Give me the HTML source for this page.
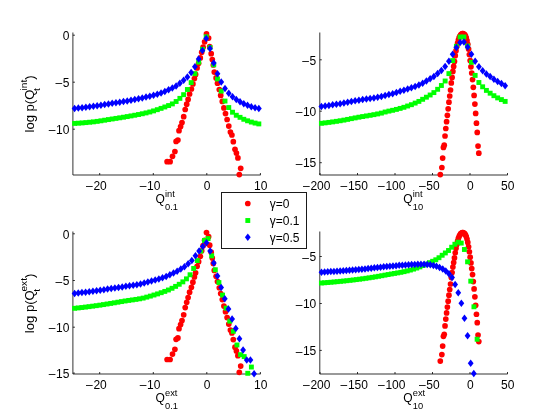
<!DOCTYPE html>
<html><head><meta charset="utf-8"><title>figure</title>
<style>html,body{margin:0;padding:0;background:#fff;width:560px;height:420px;overflow:hidden}body{position:relative;font-family:"Liberation Sans", sans-serif}</style>
</head><body>
<div style="position:absolute;left:0;top:0;width:560px;height:420px;will-change:transform">
<svg width="560" height="420" viewBox="0 0 560 420" style="display:block;position:absolute;left:0;top:0;filter:opacity(1)" font-family='"Liberation Sans", sans-serif' font-size="12" fill="#000">
<rect x="0" y="0" width="560" height="420" fill="#fff"/>
<g stroke="#000" stroke-width="1.0" stroke-opacity="0.8" fill="none">
<path d="M72.9 32.5V175.0H260.6"/>
<path d="M99.7 175.0v-2.0"/>
<path d="M153.3 175.0v-2.0"/>
<path d="M206.8 175.0v-2.0"/>
<path d="M260.4 175.0v-2.0"/>
<path d="M72.9 35.2h2.0"/>
<path d="M72.9 82.2h2.0"/>
<path d="M72.9 129.2h2.0"/>
</g>
<text x="100.1" y="189.8" text-anchor="middle">20</text>
<text x="92.8" y="190.3" text-anchor="end">–</text>
<text x="153.7" y="189.8" text-anchor="middle">10</text>
<text x="146.4" y="190.3" text-anchor="end">–</text>
<text x="207.1" y="189.8" text-anchor="middle">0</text>
<text x="260.7" y="189.8" text-anchor="middle">10</text>
<text x="69.4" y="39.9" text-anchor="end">0</text>
<text x="69.4" y="86.9" text-anchor="end">5</text>
<text x="62.1" y="87.4" text-anchor="end">–</text>
<text x="69.4" y="133.9" text-anchor="end">10</text>
<text x="55.5" y="134.4" text-anchor="end">–</text>
<g fill="#ff0000">
<circle cx="167.10" cy="161.70" r="2.85"/>
<circle cx="170.10" cy="161.70" r="2.85"/>
<circle cx="172.50" cy="156.30" r="2.85"/>
<circle cx="174.90" cy="151.50" r="2.85"/>
<circle cx="176.10" cy="141.40" r="2.85"/>
<circle cx="177.90" cy="140.00" r="2.85"/>
<circle cx="179.00" cy="130.70" r="2.85"/>
<circle cx="180.60" cy="126.50" r="2.85"/>
<circle cx="182.00" cy="122.50" r="2.85"/>
<circle cx="183.70" cy="116.70" r="2.85"/>
<circle cx="185.20" cy="109.50" r="2.85"/>
<circle cx="186.70" cy="104.20" r="2.85"/>
<circle cx="188.10" cy="99.40" r="2.85"/>
<circle cx="189.60" cy="94.00" r="2.85"/>
<circle cx="191.40" cy="89.00" r="2.85"/>
<circle cx="192.90" cy="83.90" r="2.85"/>
<circle cx="194.40" cy="78.60" r="2.85"/>
<circle cx="195.60" cy="74.40" r="2.85"/>
<circle cx="197.10" cy="67.90" r="2.85"/>
<circle cx="198.60" cy="63.30" r="2.85"/>
<circle cx="200.30" cy="57.90" r="2.85"/>
<circle cx="201.70" cy="52.30" r="2.85"/>
<circle cx="203.10" cy="47.20" r="2.85"/>
<circle cx="204.60" cy="41.80" r="2.85"/>
<circle cx="206.50" cy="33.90" r="2.85"/>
<circle cx="208.60" cy="38.10" r="2.85"/>
<circle cx="209.70" cy="46.60" r="2.85"/>
<circle cx="211.20" cy="53.70" r="2.85"/>
<circle cx="212.30" cy="59.60" r="2.85"/>
<circle cx="213.30" cy="65.00" r="2.85"/>
<circle cx="214.30" cy="72.10" r="2.85"/>
<circle cx="216.10" cy="77.90" r="2.85"/>
<circle cx="217.50" cy="83.20" r="2.85"/>
<circle cx="219.30" cy="89.50" r="2.85"/>
<circle cx="220.70" cy="95.40" r="2.85"/>
<circle cx="222.30" cy="101.40" r="2.85"/>
<circle cx="223.90" cy="107.90" r="2.85"/>
<circle cx="225.50" cy="113.60" r="2.85"/>
<circle cx="227.10" cy="119.50" r="2.85"/>
<circle cx="228.80" cy="126.10" r="2.85"/>
<circle cx="230.40" cy="132.10" r="2.85"/>
<circle cx="231.90" cy="135.00" r="2.85"/>
<circle cx="233.30" cy="141.70" r="2.85"/>
<circle cx="235.00" cy="149.30" r="2.85"/>
<circle cx="236.40" cy="153.10" r="2.85"/>
<circle cx="237.90" cy="157.90" r="2.85"/>
<circle cx="240.70" cy="168.30" r="2.85"/>
<circle cx="239.30" cy="174.60" r="2.85"/>
</g>
<g fill="#00ff00">
<rect x="72.15" y="120.95" width="4.9" height="4.9"/>
<rect x="75.91" y="120.74" width="4.9" height="4.9"/>
<rect x="79.67" y="120.47" width="4.9" height="4.9"/>
<rect x="83.43" y="120.15" width="4.9" height="4.9"/>
<rect x="87.19" y="119.79" width="4.9" height="4.9"/>
<rect x="90.95" y="119.40" width="4.9" height="4.9"/>
<rect x="94.71" y="118.92" width="4.9" height="4.9"/>
<rect x="98.47" y="118.36" width="4.9" height="4.9"/>
<rect x="102.23" y="117.75" width="4.9" height="4.9"/>
<rect x="105.99" y="117.13" width="4.9" height="4.9"/>
<rect x="109.75" y="116.53" width="4.9" height="4.9"/>
<rect x="113.51" y="115.94" width="4.9" height="4.9"/>
<rect x="117.27" y="115.36" width="4.9" height="4.9"/>
<rect x="121.03" y="114.76" width="4.9" height="4.9"/>
<rect x="124.79" y="114.13" width="4.9" height="4.9"/>
<rect x="128.55" y="113.47" width="4.9" height="4.9"/>
<rect x="132.31" y="112.79" width="4.9" height="4.9"/>
<rect x="136.07" y="112.07" width="4.9" height="4.9"/>
<rect x="139.83" y="111.31" width="4.9" height="4.9"/>
<rect x="143.59" y="110.47" width="4.9" height="4.9"/>
<rect x="147.35" y="109.54" width="4.9" height="4.9"/>
<rect x="151.11" y="108.45" width="4.9" height="4.9"/>
<rect x="154.87" y="107.23" width="4.9" height="4.9"/>
<rect x="158.63" y="105.91" width="4.9" height="4.9"/>
<rect x="162.39" y="104.52" width="4.9" height="4.9"/>
<rect x="166.15" y="103.10" width="4.9" height="4.9"/>
<rect x="169.91" y="101.46" width="4.9" height="4.9"/>
<rect x="173.67" y="99.05" width="4.9" height="4.9"/>
<rect x="177.43" y="95.91" width="4.9" height="4.9"/>
<rect x="181.19" y="92.22" width="4.9" height="4.9"/>
<rect x="184.95" y="87.05" width="4.9" height="4.9"/>
<rect x="188.71" y="80.15" width="4.9" height="4.9"/>
<rect x="192.47" y="71.21" width="4.9" height="4.9"/>
<rect x="196.23" y="59.69" width="4.9" height="4.9"/>
<rect x="199.99" y="46.91" width="4.9" height="4.9"/>
<rect x="203.75" y="34.35" width="4.9" height="4.9"/>
<rect x="207.51" y="45.06" width="4.9" height="4.9"/>
<rect x="211.27" y="62.35" width="4.9" height="4.9"/>
<rect x="215.03" y="76.49" width="4.9" height="4.9"/>
<rect x="218.79" y="88.67" width="4.9" height="4.9"/>
<rect x="222.55" y="98.60" width="4.9" height="4.9"/>
<rect x="226.31" y="105.09" width="4.9" height="4.9"/>
<rect x="230.07" y="109.77" width="4.9" height="4.9"/>
<rect x="233.83" y="112.80" width="4.9" height="4.9"/>
<rect x="237.59" y="114.89" width="4.9" height="4.9"/>
<rect x="241.35" y="116.83" width="4.9" height="4.9"/>
<rect x="245.11" y="118.35" width="4.9" height="4.9"/>
<rect x="248.87" y="119.62" width="4.9" height="4.9"/>
<rect x="252.63" y="120.62" width="4.9" height="4.9"/>
<rect x="256.39" y="121.46" width="4.9" height="4.9"/>
</g>
<g fill="#0000ff">
<path d="M74.60 104.65L77.50 108.40L74.60 112.15L71.70 108.40Z"/>
<path d="M78.36 104.31L81.26 108.06L78.36 111.81L75.46 108.06Z"/>
<path d="M82.12 103.93L85.02 107.68L82.12 111.43L79.22 107.68Z"/>
<path d="M85.88 103.51L88.78 107.26L85.88 111.01L82.98 107.26Z"/>
<path d="M89.64 103.06L92.54 106.81L89.64 110.56L86.74 106.81Z"/>
<path d="M93.40 102.58L96.30 106.33L93.40 110.08L90.50 106.33Z"/>
<path d="M97.16 102.06L100.06 105.81L97.16 109.56L94.26 105.81Z"/>
<path d="M100.92 101.47L103.82 105.22L100.92 108.97L98.02 105.22Z"/>
<path d="M104.68 100.86L107.58 104.61L104.68 108.36L101.78 104.61Z"/>
<path d="M108.44 100.24L111.34 103.99L108.44 107.74L105.54 103.99Z"/>
<path d="M112.20 99.62L115.10 103.37L112.20 107.12L109.30 103.37Z"/>
<path d="M115.96 99.02L118.86 102.77L115.96 106.52L113.06 102.77Z"/>
<path d="M119.72 98.42L122.62 102.17L119.72 105.92L116.82 102.17Z"/>
<path d="M123.48 97.80L126.38 101.55L123.48 105.30L120.58 101.55Z"/>
<path d="M127.24 97.15L130.14 100.90L127.24 104.65L124.34 100.90Z"/>
<path d="M131.00 96.46L133.90 100.21L131.00 103.96L128.10 100.21Z"/>
<path d="M134.76 95.74L137.66 99.49L134.76 103.24L131.86 99.49Z"/>
<path d="M138.52 94.99L141.42 98.74L138.52 102.49L135.62 98.74Z"/>
<path d="M142.28 94.19L145.18 97.94L142.28 101.69L139.38 97.94Z"/>
<path d="M146.04 93.35L148.94 97.10L146.04 100.85L143.14 97.10Z"/>
<path d="M149.80 92.46L152.70 96.21L149.80 99.96L146.90 96.21Z"/>
<path d="M153.56 91.53L156.46 95.28L153.56 99.03L150.66 95.28Z"/>
<path d="M157.32 90.49L160.22 94.24L157.32 97.99L154.42 94.24Z"/>
<path d="M161.08 89.27L163.98 93.02L161.08 96.77L158.18 93.02Z"/>
<path d="M164.84 87.75L167.74 91.50L164.84 95.25L161.94 91.50Z"/>
<path d="M168.60 86.07L171.50 89.82L168.60 93.57L165.70 89.82Z"/>
<path d="M172.36 84.22L175.26 87.97L172.36 91.72L169.46 87.97Z"/>
<path d="M176.12 82.18L179.02 85.93L176.12 89.68L173.22 85.93Z"/>
<path d="M179.88 79.51L182.78 83.26L179.88 87.01L176.98 83.26Z"/>
<path d="M183.64 76.55L186.54 80.30L183.64 84.05L180.74 80.30Z"/>
<path d="M187.40 73.25L190.30 77.00L187.40 80.75L184.50 77.00Z"/>
<path d="M191.16 68.68L194.06 72.43L191.16 76.18L188.26 72.43Z"/>
<path d="M194.92 63.09L197.82 66.84L194.92 70.59L192.02 66.84Z"/>
<path d="M198.68 55.28L201.58 59.03L198.68 62.78L195.78 59.03Z"/>
<path d="M202.44 46.74L205.34 50.49L202.44 54.24L199.54 50.49Z"/>
<path d="M206.20 34.65L209.10 38.40L206.20 42.15L203.30 38.40Z"/>
<path d="M209.96 44.74L212.86 48.49L209.96 52.24L207.06 48.49Z"/>
<path d="M213.72 59.15L216.62 62.90L213.72 66.65L210.82 62.90Z"/>
<path d="M217.48 70.11L220.38 73.86L217.48 77.61L214.58 73.86Z"/>
<path d="M221.24 78.32L224.14 82.07L221.24 85.82L218.34 82.07Z"/>
<path d="M225.00 84.84L227.90 88.59L225.00 92.34L222.10 88.59Z"/>
<path d="M228.76 89.54L231.66 93.29L228.76 97.04L225.86 93.29Z"/>
<path d="M232.52 93.00L235.42 96.75L232.52 100.50L229.62 96.75Z"/>
<path d="M236.28 95.81L239.18 99.56L236.28 103.31L233.38 99.56Z"/>
<path d="M240.04 98.10L242.94 101.85L240.04 105.60L237.14 101.85Z"/>
<path d="M243.80 100.03L246.70 103.78L243.80 107.53L240.90 103.78Z"/>
<path d="M247.56 101.55L250.46 105.30L247.56 109.05L244.66 105.30Z"/>
<path d="M251.32 102.92L254.22 106.67L251.32 110.42L248.42 106.67Z"/>
<path d="M255.08 104.02L257.98 107.77L255.08 111.52L252.18 107.77Z"/>
<path d="M258.84 104.86L261.74 108.61L258.84 112.36L255.94 108.61Z"/>
</g>
<g stroke="#000" stroke-width="1.0" stroke-opacity="0.8" fill="none">
<path d="M319.8 32.5V175.0H507.6"/>
<path d="M320.0 175.0v-2.0"/>
<path d="M357.5 175.0v-2.0"/>
<path d="M395.0 175.0v-2.0"/>
<path d="M432.5 175.0v-2.0"/>
<path d="M470.0 175.0v-2.0"/>
<path d="M507.5 175.0v-2.0"/>
<path d="M319.8 59.8h2.0"/>
<path d="M319.8 111.2h2.0"/>
<path d="M319.8 162.7h2.0"/>
</g>
<text x="320.4" y="189.8" text-anchor="middle">200</text>
<text x="309.8" y="190.3" text-anchor="end">–</text>
<text x="357.9" y="189.8" text-anchor="middle">150</text>
<text x="347.3" y="190.3" text-anchor="end">–</text>
<text x="395.4" y="189.8" text-anchor="middle">100</text>
<text x="384.8" y="190.3" text-anchor="end">–</text>
<text x="432.9" y="189.8" text-anchor="middle">50</text>
<text x="425.6" y="190.3" text-anchor="end">–</text>
<text x="470.3" y="189.8" text-anchor="middle">0</text>
<text x="507.8" y="189.8" text-anchor="middle">50</text>
<text x="316.3" y="64.5" text-anchor="end">5</text>
<text x="309.0" y="65.0" text-anchor="end">–</text>
<text x="316.3" y="115.9" text-anchor="end">10</text>
<text x="302.4" y="116.4" text-anchor="end">–</text>
<text x="316.3" y="167.4" text-anchor="end">15</text>
<text x="302.4" y="167.9" text-anchor="end">–</text>
<g fill="#ff0000">
<circle cx="440.30" cy="174.60" r="2.85"/>
<circle cx="441.87" cy="167.50" r="2.85"/>
<circle cx="442.66" cy="158.10" r="2.85"/>
<circle cx="443.44" cy="147.40" r="2.85"/>
<circle cx="444.23" cy="145.20" r="2.85"/>
<circle cx="445.02" cy="136.00" r="2.85"/>
<circle cx="445.80" cy="128.50" r="2.85"/>
<circle cx="446.59" cy="121.70" r="2.85"/>
<circle cx="447.37" cy="115.30" r="2.85"/>
<circle cx="448.16" cy="108.80" r="2.85"/>
<circle cx="448.95" cy="102.20" r="2.85"/>
<circle cx="449.73" cy="96.00" r="2.85"/>
<circle cx="450.52" cy="90.00" r="2.85"/>
<circle cx="451.30" cy="82.90" r="2.85"/>
<circle cx="452.09" cy="77.40" r="2.85"/>
<circle cx="452.88" cy="71.40" r="2.85"/>
<circle cx="453.66" cy="66.40" r="2.85"/>
<circle cx="454.45" cy="61.40" r="2.85"/>
<circle cx="455.23" cy="55.70" r="2.85"/>
<circle cx="456.02" cy="50.70" r="2.85"/>
<circle cx="456.81" cy="46.50" r="2.85"/>
<circle cx="457.59" cy="43.00" r="2.85"/>
<circle cx="458.38" cy="40.00" r="2.85"/>
<circle cx="459.16" cy="37.60" r="2.85"/>
<circle cx="459.95" cy="36.00" r="2.85"/>
<circle cx="460.74" cy="34.80" r="2.85"/>
<circle cx="461.52" cy="34.00" r="2.85"/>
<circle cx="462.31" cy="33.70" r="2.85"/>
<circle cx="463.09" cy="33.70" r="2.85"/>
<circle cx="463.88" cy="34.00" r="2.85"/>
<circle cx="464.67" cy="34.70" r="2.85"/>
<circle cx="465.45" cy="35.90" r="2.85"/>
<circle cx="466.24" cy="37.90" r="2.85"/>
<circle cx="467.02" cy="40.70" r="2.85"/>
<circle cx="467.81" cy="44.30" r="2.85"/>
<circle cx="468.60" cy="49.10" r="2.85"/>
<circle cx="469.38" cy="54.60" r="2.85"/>
<circle cx="470.17" cy="60.50" r="2.85"/>
<circle cx="470.95" cy="66.80" r="2.85"/>
<circle cx="471.74" cy="73.00" r="2.85"/>
<circle cx="472.53" cy="79.60" r="2.85"/>
<circle cx="473.31" cy="87.30" r="2.85"/>
<circle cx="474.10" cy="95.40" r="2.85"/>
<circle cx="474.88" cy="104.10" r="2.85"/>
<circle cx="475.67" cy="113.40" r="2.85"/>
<circle cx="476.46" cy="123.20" r="2.85"/>
<circle cx="477.24" cy="132.40" r="2.85"/>
<circle cx="478.03" cy="146.10" r="2.85"/>
<circle cx="478.81" cy="153.20" r="2.85"/>
</g>
<g fill="#00ff00">
<rect x="318.95" y="120.85" width="4.9" height="4.9"/>
<rect x="322.70" y="120.42" width="4.9" height="4.9"/>
<rect x="326.45" y="119.95" width="4.9" height="4.9"/>
<rect x="330.20" y="119.44" width="4.9" height="4.9"/>
<rect x="333.95" y="118.89" width="4.9" height="4.9"/>
<rect x="337.70" y="118.31" width="4.9" height="4.9"/>
<rect x="341.45" y="117.66" width="4.9" height="4.9"/>
<rect x="345.20" y="116.94" width="4.9" height="4.9"/>
<rect x="348.95" y="116.19" width="4.9" height="4.9"/>
<rect x="352.70" y="115.45" width="4.9" height="4.9"/>
<rect x="356.45" y="114.74" width="4.9" height="4.9"/>
<rect x="360.20" y="114.10" width="4.9" height="4.9"/>
<rect x="363.95" y="113.48" width="4.9" height="4.9"/>
<rect x="367.70" y="112.86" width="4.9" height="4.9"/>
<rect x="371.45" y="112.21" width="4.9" height="4.9"/>
<rect x="375.20" y="111.48" width="4.9" height="4.9"/>
<rect x="378.95" y="110.65" width="4.9" height="4.9"/>
<rect x="382.70" y="109.55" width="4.9" height="4.9"/>
<rect x="386.45" y="108.65" width="4.9" height="4.9"/>
<rect x="390.20" y="107.85" width="4.9" height="4.9"/>
<rect x="393.95" y="106.95" width="4.9" height="4.9"/>
<rect x="397.70" y="105.95" width="4.9" height="4.9"/>
<rect x="401.45" y="104.85" width="4.9" height="4.9"/>
<rect x="405.20" y="103.55" width="4.9" height="4.9"/>
<rect x="408.95" y="102.25" width="4.9" height="4.9"/>
<rect x="412.70" y="100.65" width="4.9" height="4.9"/>
<rect x="416.45" y="98.95" width="4.9" height="4.9"/>
<rect x="420.20" y="96.85" width="4.9" height="4.9"/>
<rect x="423.95" y="94.75" width="4.9" height="4.9"/>
<rect x="427.70" y="92.55" width="4.9" height="4.9"/>
<rect x="431.45" y="90.15" width="4.9" height="4.9"/>
<rect x="435.20" y="86.85" width="4.9" height="4.9"/>
<rect x="438.95" y="83.05" width="4.9" height="4.9"/>
<rect x="442.70" y="78.55" width="4.9" height="4.9"/>
<rect x="446.45" y="71.15" width="4.9" height="4.9"/>
<rect x="450.20" y="58.15" width="4.9" height="4.9"/>
<rect x="453.95" y="43.85" width="4.9" height="4.9"/>
<rect x="457.70" y="34.55" width="4.9" height="4.9"/>
<rect x="461.45" y="34.55" width="4.9" height="4.9"/>
<rect x="465.20" y="43.55" width="4.9" height="4.9"/>
<rect x="468.95" y="59.85" width="4.9" height="4.9"/>
<rect x="472.70" y="72.95" width="4.9" height="4.9"/>
<rect x="476.45" y="80.05" width="4.9" height="4.9"/>
<rect x="480.20" y="84.35" width="4.9" height="4.9"/>
<rect x="483.95" y="87.95" width="4.9" height="4.9"/>
<rect x="487.70" y="90.75" width="4.9" height="4.9"/>
<rect x="491.45" y="93.25" width="4.9" height="4.9"/>
<rect x="495.20" y="95.45" width="4.9" height="4.9"/>
<rect x="498.95" y="97.15" width="4.9" height="4.9"/>
<rect x="502.70" y="98.95" width="4.9" height="4.9"/>
</g>
<g fill="#0000ff">
<path d="M321.40 102.65L324.30 106.40L321.40 110.15L318.50 106.40Z"/>
<path d="M325.15 102.16L328.05 105.91L325.15 109.66L322.25 105.91Z"/>
<path d="M328.90 101.64L331.80 105.39L328.90 109.14L326.00 105.39Z"/>
<path d="M332.65 101.09L335.55 104.84L332.65 108.59L329.75 104.84Z"/>
<path d="M336.40 100.51L339.30 104.26L336.40 108.01L333.50 104.26Z"/>
<path d="M340.15 99.91L343.05 103.66L340.15 107.41L337.25 103.66Z"/>
<path d="M343.90 99.25L346.80 103.00L343.90 106.75L341.00 103.00Z"/>
<path d="M347.65 98.54L350.55 102.29L347.65 106.04L344.75 102.29Z"/>
<path d="M351.40 97.82L354.30 101.57L351.40 105.32L348.50 101.57Z"/>
<path d="M355.15 97.12L358.05 100.87L355.15 104.62L352.25 100.87Z"/>
<path d="M358.90 96.46L361.80 100.21L358.90 103.96L356.00 100.21Z"/>
<path d="M362.65 95.87L365.55 99.62L362.65 103.37L359.75 99.62Z"/>
<path d="M366.40 95.33L369.30 99.08L366.40 102.83L363.50 99.08Z"/>
<path d="M370.15 94.79L373.05 98.54L370.15 102.29L367.25 98.54Z"/>
<path d="M373.90 94.22L376.80 97.97L373.90 101.72L371.00 97.97Z"/>
<path d="M377.65 93.59L380.55 97.34L377.65 101.09L374.75 97.34Z"/>
<path d="M381.40 92.85L384.30 96.60L381.40 100.35L378.50 96.60Z"/>
<path d="M385.15 91.85L388.05 95.60L385.15 99.35L382.25 95.60Z"/>
<path d="M388.90 90.85L391.80 94.60L388.90 98.35L386.00 94.60Z"/>
<path d="M392.65 89.95L395.55 93.70L392.65 97.45L389.75 93.70Z"/>
<path d="M396.40 88.75L399.30 92.50L396.40 96.25L393.50 92.50Z"/>
<path d="M400.15 87.55L403.05 91.30L400.15 95.05L397.25 91.30Z"/>
<path d="M403.90 86.45L406.80 90.20L403.90 93.95L401.00 90.20Z"/>
<path d="M407.65 85.25L410.55 89.00L407.65 92.75L404.75 89.00Z"/>
<path d="M411.40 84.05L414.30 87.80L411.40 91.55L408.50 87.80Z"/>
<path d="M415.15 82.75L418.05 86.50L415.15 90.25L412.25 86.50Z"/>
<path d="M418.90 81.25L421.80 85.00L418.90 88.75L416.00 85.00Z"/>
<path d="M422.65 79.45L425.55 83.20L422.65 86.95L419.75 83.20Z"/>
<path d="M426.40 77.35L429.30 81.10L426.40 84.85L423.50 81.10Z"/>
<path d="M430.15 75.05L433.05 78.80L430.15 82.55L427.25 78.80Z"/>
<path d="M433.90 72.65L436.80 76.40L433.90 80.15L431.00 76.40Z"/>
<path d="M437.65 69.75L440.55 73.50L437.65 77.25L434.75 73.50Z"/>
<path d="M441.40 66.85L444.30 70.60L441.40 74.35L438.50 70.60Z"/>
<path d="M445.15 62.65L448.05 66.40L445.15 70.15L442.25 66.40Z"/>
<path d="M448.90 57.45L451.80 61.20L448.90 64.95L446.00 61.20Z"/>
<path d="M452.65 50.55L455.55 54.30L452.65 58.05L449.75 54.30Z"/>
<path d="M456.40 43.85L459.30 47.60L456.40 51.35L453.50 47.60Z"/>
<path d="M460.15 38.75L463.05 42.50L460.15 46.25L457.25 42.50Z"/>
<path d="M463.90 38.25L466.80 42.00L463.90 45.75L461.00 42.00Z"/>
<path d="M467.65 43.25L470.55 47.00L467.65 50.75L464.75 47.00Z"/>
<path d="M471.40 50.55L474.30 54.30L471.40 58.05L468.50 54.30Z"/>
<path d="M475.15 57.45L478.05 61.20L475.15 64.95L472.25 61.20Z"/>
<path d="M478.90 63.05L481.80 66.80L478.90 70.55L476.00 66.80Z"/>
<path d="M482.65 66.95L485.55 70.70L482.65 74.45L479.75 70.70Z"/>
<path d="M486.40 70.15L489.30 73.90L486.40 77.65L483.50 73.90Z"/>
<path d="M490.15 72.85L493.05 76.60L490.15 80.35L487.25 76.60Z"/>
<path d="M493.90 75.55L496.80 79.30L493.90 83.05L491.00 79.30Z"/>
<path d="M497.65 77.65L500.55 81.40L497.65 85.15L494.75 81.40Z"/>
<path d="M501.40 79.85L504.30 83.60L501.40 87.35L498.50 83.60Z"/>
<path d="M505.15 81.95L508.05 85.70L505.15 89.45L502.25 85.70Z"/>
</g>
<g stroke="#000" stroke-width="1.0" stroke-opacity="0.8" fill="none">
<path d="M72.9 231.5V374.0H260.6"/>
<path d="M99.7 374.0v-2.0"/>
<path d="M153.3 374.0v-2.0"/>
<path d="M206.8 374.0v-2.0"/>
<path d="M260.4 374.0v-2.0"/>
<path d="M72.9 233.8h2.0"/>
<path d="M72.9 280.5h2.0"/>
<path d="M72.9 327.2h2.0"/>
<path d="M72.9 373.1h2.0"/>
</g>
<text x="100.1" y="388.8" text-anchor="middle">20</text>
<text x="92.8" y="389.3" text-anchor="end">–</text>
<text x="153.7" y="388.8" text-anchor="middle">10</text>
<text x="146.4" y="389.3" text-anchor="end">–</text>
<text x="207.1" y="388.8" text-anchor="middle">0</text>
<text x="260.7" y="388.8" text-anchor="middle">10</text>
<text x="69.4" y="238.5" text-anchor="end">0</text>
<text x="69.4" y="285.2" text-anchor="end">5</text>
<text x="62.1" y="285.7" text-anchor="end">–</text>
<text x="69.4" y="331.9" text-anchor="end">10</text>
<text x="55.5" y="332.4" text-anchor="end">–</text>
<text x="69.4" y="377.8" text-anchor="end">15</text>
<text x="55.5" y="378.3" text-anchor="end">–</text>
<g fill="#ff0000">
<circle cx="167.10" cy="359.49" r="2.85"/>
<circle cx="170.10" cy="359.49" r="2.85"/>
<circle cx="172.50" cy="354.12" r="2.85"/>
<circle cx="174.90" cy="349.36" r="2.85"/>
<circle cx="176.10" cy="339.32" r="2.85"/>
<circle cx="177.90" cy="337.93" r="2.85"/>
<circle cx="179.00" cy="328.69" r="2.85"/>
<circle cx="180.60" cy="324.52" r="2.85"/>
<circle cx="182.00" cy="320.54" r="2.85"/>
<circle cx="183.70" cy="314.78" r="2.85"/>
<circle cx="185.20" cy="307.62" r="2.85"/>
<circle cx="186.70" cy="302.36" r="2.85"/>
<circle cx="188.10" cy="297.59" r="2.85"/>
<circle cx="189.60" cy="292.22" r="2.85"/>
<circle cx="191.40" cy="287.26" r="2.85"/>
<circle cx="192.90" cy="282.19" r="2.85"/>
<circle cx="194.40" cy="276.92" r="2.85"/>
<circle cx="195.60" cy="272.75" r="2.85"/>
<circle cx="197.10" cy="266.29" r="2.85"/>
<circle cx="198.60" cy="261.72" r="2.85"/>
<circle cx="200.30" cy="256.35" r="2.85"/>
<circle cx="201.70" cy="250.79" r="2.85"/>
<circle cx="203.10" cy="245.72" r="2.85"/>
<circle cx="204.60" cy="240.36" r="2.85"/>
<circle cx="206.50" cy="232.51" r="2.85"/>
<circle cx="208.60" cy="236.68" r="2.85"/>
<circle cx="209.70" cy="245.13" r="2.85"/>
<circle cx="211.20" cy="252.18" r="2.85"/>
<circle cx="212.30" cy="258.04" r="2.85"/>
<circle cx="213.30" cy="263.41" r="2.85"/>
<circle cx="214.30" cy="270.46" r="2.85"/>
<circle cx="216.10" cy="276.23" r="2.85"/>
<circle cx="217.50" cy="281.49" r="2.85"/>
<circle cx="219.30" cy="287.75" r="2.85"/>
<circle cx="220.70" cy="293.61" r="2.85"/>
<circle cx="222.30" cy="299.58" r="2.85"/>
<circle cx="223.90" cy="306.03" r="2.85"/>
<circle cx="225.50" cy="311.70" r="2.85"/>
<circle cx="227.10" cy="317.56" r="2.85"/>
<circle cx="228.80" cy="324.12" r="2.85"/>
<circle cx="230.40" cy="330.08" r="2.85"/>
<circle cx="231.90" cy="332.96" r="2.85"/>
<circle cx="233.30" cy="339.62" r="2.85"/>
<circle cx="235.00" cy="347.17" r="2.85"/>
<circle cx="236.40" cy="350.95" r="2.85"/>
<circle cx="237.90" cy="355.71" r="2.85"/>
<circle cx="240.70" cy="366.05" r="2.85"/>
<circle cx="239.30" cy="372.31" r="2.85"/>
</g>
<g fill="#00ff00">
<rect x="72.15" y="305.85" width="4.9" height="4.9"/>
<rect x="75.76" y="305.47" width="4.9" height="4.9"/>
<rect x="79.37" y="305.07" width="4.9" height="4.9"/>
<rect x="82.97" y="304.64" width="4.9" height="4.9"/>
<rect x="86.58" y="304.19" width="4.9" height="4.9"/>
<rect x="90.19" y="303.71" width="4.9" height="4.9"/>
<rect x="93.80" y="303.22" width="4.9" height="4.9"/>
<rect x="97.41" y="302.71" width="4.9" height="4.9"/>
<rect x="101.01" y="302.15" width="4.9" height="4.9"/>
<rect x="104.62" y="301.56" width="4.9" height="4.9"/>
<rect x="108.23" y="300.97" width="4.9" height="4.9"/>
<rect x="111.84" y="300.37" width="4.9" height="4.9"/>
<rect x="115.45" y="299.75" width="4.9" height="4.9"/>
<rect x="119.05" y="299.14" width="4.9" height="4.9"/>
<rect x="122.66" y="298.53" width="4.9" height="4.9"/>
<rect x="126.27" y="297.98" width="4.9" height="4.9"/>
<rect x="129.88" y="297.47" width="4.9" height="4.9"/>
<rect x="133.49" y="296.95" width="4.9" height="4.9"/>
<rect x="137.09" y="296.36" width="4.9" height="4.9"/>
<rect x="140.70" y="295.66" width="4.9" height="4.9"/>
<rect x="144.31" y="294.66" width="4.9" height="4.9"/>
<rect x="147.92" y="293.66" width="4.9" height="4.9"/>
<rect x="151.53" y="292.56" width="4.9" height="4.9"/>
<rect x="155.13" y="291.46" width="4.9" height="4.9"/>
<rect x="158.74" y="290.25" width="4.9" height="4.9"/>
<rect x="162.35" y="288.95" width="4.9" height="4.9"/>
<rect x="165.96" y="287.55" width="4.9" height="4.9"/>
<rect x="169.57" y="285.84" width="4.9" height="4.9"/>
<rect x="173.17" y="283.94" width="4.9" height="4.9"/>
<rect x="176.78" y="281.83" width="4.9" height="4.9"/>
<rect x="180.39" y="279.42" width="4.9" height="4.9"/>
<rect x="184.00" y="276.40" width="4.9" height="4.9"/>
<rect x="187.61" y="272.31" width="4.9" height="4.9"/>
<rect x="191.21" y="266.02" width="4.9" height="4.9"/>
<rect x="194.82" y="258.12" width="4.9" height="4.9"/>
<rect x="198.43" y="248.61" width="4.9" height="4.9"/>
<rect x="202.04" y="237.96" width="4.9" height="4.9"/>
<rect x="205.65" y="236.15" width="4.9" height="4.9"/>
<rect x="209.25" y="253.37" width="4.9" height="4.9"/>
<rect x="212.86" y="267.29" width="4.9" height="4.9"/>
<rect x="216.47" y="280.12" width="4.9" height="4.9"/>
<rect x="220.08" y="292.65" width="4.9" height="4.9"/>
<rect x="223.69" y="305.68" width="4.9" height="4.9"/>
<rect x="227.29" y="318.69" width="4.9" height="4.9"/>
<rect x="230.90" y="328.80" width="4.9" height="4.9"/>
<rect x="234.51" y="342.52" width="4.9" height="4.9"/>
<rect x="238.12" y="352.22" width="4.9" height="4.9"/>
<rect x="241.73" y="354.13" width="4.9" height="4.9"/>
<rect x="245.33" y="370.85" width="4.9" height="4.9"/>
<rect x="248.94" y="364.59" width="4.9" height="4.9"/>
</g>
<g fill="#0000ff">
<path d="M74.60 289.65L77.50 293.40L74.60 297.15L71.70 293.40Z"/>
<path d="M78.26 289.26L81.16 293.01L78.26 296.76L75.36 293.01Z"/>
<path d="M81.93 288.84L84.83 292.59L81.93 296.34L79.03 292.59Z"/>
<path d="M85.59 288.40L88.49 292.15L85.59 295.90L82.69 292.15Z"/>
<path d="M89.25 287.94L92.15 291.69L89.25 295.44L86.35 291.69Z"/>
<path d="M92.91 287.47L95.81 291.22L92.91 294.97L90.01 291.22Z"/>
<path d="M96.58 286.98L99.48 290.73L96.58 294.48L93.68 290.73Z"/>
<path d="M100.24 286.46L103.14 290.21L100.24 293.96L97.34 290.21Z"/>
<path d="M103.90 285.91L106.80 289.66L103.90 293.41L101.00 289.66Z"/>
<path d="M107.57 285.34L110.47 289.09L107.57 292.84L104.67 289.09Z"/>
<path d="M111.23 284.78L114.13 288.53L111.23 292.28L108.33 288.53Z"/>
<path d="M114.89 284.24L117.79 287.99L114.89 291.74L111.99 287.99Z"/>
<path d="M118.56 283.71L121.46 287.46L118.56 291.21L115.66 287.46Z"/>
<path d="M122.22 283.17L125.12 286.92L122.22 290.67L119.32 286.92Z"/>
<path d="M125.88 282.62L128.78 286.37L125.88 290.12L122.98 286.37Z"/>
<path d="M129.54 282.08L132.44 285.83L129.54 289.58L126.64 285.83Z"/>
<path d="M133.21 281.55L136.11 285.30L133.21 289.05L130.31 285.30Z"/>
<path d="M136.87 280.95L139.77 284.70L136.87 288.45L133.97 284.70Z"/>
<path d="M140.53 280.24L143.43 283.99L140.53 287.74L137.63 283.99Z"/>
<path d="M144.20 279.25L147.10 283.00L144.20 286.75L141.30 283.00Z"/>
<path d="M147.86 278.36L150.76 282.11L147.86 285.86L144.96 282.11Z"/>
<path d="M151.52 277.24L154.42 280.99L151.52 284.74L148.62 280.99Z"/>
<path d="M155.19 276.25L158.09 280.00L155.19 283.75L152.29 280.00Z"/>
<path d="M158.85 275.13L161.75 278.88L158.85 282.63L155.95 278.88Z"/>
<path d="M162.51 273.95L165.41 277.70L162.51 281.45L159.61 277.70Z"/>
<path d="M166.17 272.66L169.07 276.41L166.17 280.16L163.27 276.41Z"/>
<path d="M169.84 271.03L172.74 274.78L169.84 278.53L166.94 274.78Z"/>
<path d="M173.50 269.35L176.40 273.10L173.50 276.85L170.60 273.10Z"/>
<path d="M177.16 267.47L180.06 271.22L177.16 274.97L174.26 271.22Z"/>
<path d="M180.83 265.23L183.73 268.98L180.83 272.73L177.93 268.98Z"/>
<path d="M184.49 262.96L187.39 266.71L184.49 270.46L181.59 266.71Z"/>
<path d="M188.15 260.09L191.05 263.84L188.15 267.59L185.25 263.84Z"/>
<path d="M191.82 256.73L194.72 260.48L191.82 264.23L188.92 260.48Z"/>
<path d="M195.48 251.98L198.38 255.73L195.48 259.48L192.58 255.73Z"/>
<path d="M199.14 247.20L202.04 250.95L199.14 254.70L196.24 250.95Z"/>
<path d="M202.80 242.64L205.70 246.39L202.80 250.14L199.90 246.39Z"/>
<path d="M206.47 238.95L209.37 242.70L206.47 246.45L203.57 242.70Z"/>
<path d="M210.13 247.33L213.03 251.08L210.13 254.83L207.23 251.08Z"/>
<path d="M213.79 259.23L216.69 262.98L213.79 266.73L210.89 262.98Z"/>
<path d="M217.46 272.24L220.36 275.99L217.46 279.74L214.56 275.99Z"/>
<path d="M221.12 283.81L224.02 287.56L221.12 291.31L218.22 287.56Z"/>
<path d="M224.78 294.90L227.68 298.65L224.78 302.40L221.88 298.65Z"/>
<path d="M228.45 305.18L231.35 308.93L228.45 312.68L225.55 308.93Z"/>
<path d="M232.11 315.27L235.01 319.02L232.11 322.77L229.21 319.02Z"/>
<path d="M235.77 324.77L238.67 328.52L235.77 332.27L232.87 328.52Z"/>
<path d="M239.43 335.05L242.33 338.80L239.43 342.55L236.53 338.80Z"/>
<path d="M243.10 346.14L246.00 349.89L243.10 353.64L240.20 349.89Z"/>
<path d="M246.76 356.25L249.66 360.00L246.76 363.75L243.86 360.00Z"/>
<path d="M250.42 356.25L253.32 360.00L250.42 363.75L247.52 360.00Z"/>
<path d="M254.09 369.88L256.99 373.63L254.09 377.38L251.19 373.63Z"/>
</g>
<g stroke="#000" stroke-width="1.0" stroke-opacity="0.8" fill="none">
<path d="M319.8 231.5V374.0H507.6"/>
<path d="M320.0 374.0v-2.0"/>
<path d="M357.5 374.0v-2.0"/>
<path d="M395.0 374.0v-2.0"/>
<path d="M432.5 374.0v-2.0"/>
<path d="M470.0 374.0v-2.0"/>
<path d="M507.5 374.0v-2.0"/>
<path d="M319.8 256.5h2.0"/>
<path d="M319.8 303.5h2.0"/>
<path d="M319.8 350.4h2.0"/>
</g>
<text x="320.4" y="388.8" text-anchor="middle">200</text>
<text x="309.8" y="389.3" text-anchor="end">–</text>
<text x="357.9" y="388.8" text-anchor="middle">150</text>
<text x="347.3" y="389.3" text-anchor="end">–</text>
<text x="395.4" y="388.8" text-anchor="middle">100</text>
<text x="384.8" y="389.3" text-anchor="end">–</text>
<text x="432.9" y="388.8" text-anchor="middle">50</text>
<text x="425.6" y="389.3" text-anchor="end">–</text>
<text x="470.3" y="388.8" text-anchor="middle">0</text>
<text x="507.8" y="388.8" text-anchor="middle">50</text>
<text x="316.3" y="261.2" text-anchor="end">5</text>
<text x="309.0" y="261.7" text-anchor="end">–</text>
<text x="316.3" y="308.2" text-anchor="end">10</text>
<text x="302.4" y="308.7" text-anchor="end">–</text>
<text x="316.3" y="355.1" text-anchor="end">15</text>
<text x="302.4" y="355.6" text-anchor="end">–</text>
<g fill="#ff0000">
<circle cx="440.30" cy="361.08" r="2.85"/>
<circle cx="441.87" cy="354.61" r="2.85"/>
<circle cx="442.66" cy="346.05" r="2.85"/>
<circle cx="443.44" cy="336.30" r="2.85"/>
<circle cx="444.23" cy="334.30" r="2.85"/>
<circle cx="445.02" cy="325.92" r="2.85"/>
<circle cx="445.80" cy="319.09" r="2.85"/>
<circle cx="446.59" cy="312.89" r="2.85"/>
<circle cx="447.37" cy="307.06" r="2.85"/>
<circle cx="448.16" cy="301.14" r="2.85"/>
<circle cx="448.95" cy="295.13" r="2.85"/>
<circle cx="449.73" cy="289.48" r="2.85"/>
<circle cx="450.52" cy="284.01" r="2.85"/>
<circle cx="451.30" cy="277.54" r="2.85"/>
<circle cx="452.09" cy="272.53" r="2.85"/>
<circle cx="452.88" cy="267.07" r="2.85"/>
<circle cx="453.66" cy="262.51" r="2.85"/>
<circle cx="454.45" cy="257.96" r="2.85"/>
<circle cx="455.23" cy="252.76" r="2.85"/>
<circle cx="456.02" cy="248.21" r="2.85"/>
<circle cx="456.81" cy="244.38" r="2.85"/>
<circle cx="457.59" cy="241.20" r="2.85"/>
<circle cx="458.38" cy="238.46" r="2.85"/>
<circle cx="459.16" cy="236.28" r="2.85"/>
<circle cx="459.95" cy="234.82" r="2.85"/>
<circle cx="460.74" cy="233.72" r="2.85"/>
<circle cx="461.52" cy="233.00" r="2.85"/>
<circle cx="462.31" cy="232.72" r="2.85"/>
<circle cx="463.09" cy="232.72" r="2.85"/>
<circle cx="463.88" cy="233.00" r="2.85"/>
<circle cx="464.67" cy="233.63" r="2.85"/>
<circle cx="465.45" cy="234.73" r="2.85"/>
<circle cx="466.24" cy="236.55" r="2.85"/>
<circle cx="467.02" cy="239.10" r="2.85"/>
<circle cx="467.81" cy="242.38" r="2.85"/>
<circle cx="468.60" cy="246.75" r="2.85"/>
<circle cx="469.38" cy="251.76" r="2.85"/>
<circle cx="470.17" cy="257.14" r="2.85"/>
<circle cx="470.95" cy="262.88" r="2.85"/>
<circle cx="471.74" cy="268.53" r="2.85"/>
<circle cx="472.53" cy="274.54" r="2.85"/>
<circle cx="473.31" cy="281.55" r="2.85"/>
<circle cx="474.10" cy="288.93" r="2.85"/>
<circle cx="474.88" cy="296.86" r="2.85"/>
<circle cx="475.67" cy="305.33" r="2.85"/>
<circle cx="476.46" cy="314.26" r="2.85"/>
<circle cx="477.24" cy="322.64" r="2.85"/>
<circle cx="478.03" cy="335.12" r="2.85"/>
<circle cx="478.81" cy="341.59" r="2.85"/>
</g>
<g fill="#00ff00">
<rect x="318.95" y="280.55" width="4.9" height="4.9"/>
<rect x="322.13" y="280.31" width="4.9" height="4.9"/>
<rect x="325.31" y="280.06" width="4.9" height="4.9"/>
<rect x="328.48" y="279.79" width="4.9" height="4.9"/>
<rect x="331.66" y="279.50" width="4.9" height="4.9"/>
<rect x="334.84" y="279.21" width="4.9" height="4.9"/>
<rect x="338.02" y="278.90" width="4.9" height="4.9"/>
<rect x="341.20" y="278.58" width="4.9" height="4.9"/>
<rect x="344.37" y="278.25" width="4.9" height="4.9"/>
<rect x="347.55" y="277.90" width="4.9" height="4.9"/>
<rect x="350.73" y="277.53" width="4.9" height="4.9"/>
<rect x="353.91" y="277.14" width="4.9" height="4.9"/>
<rect x="357.09" y="276.74" width="4.9" height="4.9"/>
<rect x="360.26" y="276.31" width="4.9" height="4.9"/>
<rect x="363.44" y="275.86" width="4.9" height="4.9"/>
<rect x="366.62" y="275.38" width="4.9" height="4.9"/>
<rect x="369.80" y="274.89" width="4.9" height="4.9"/>
<rect x="372.98" y="274.38" width="4.9" height="4.9"/>
<rect x="376.15" y="273.84" width="4.9" height="4.9"/>
<rect x="379.33" y="273.27" width="4.9" height="4.9"/>
<rect x="382.51" y="272.68" width="4.9" height="4.9"/>
<rect x="385.69" y="272.09" width="4.9" height="4.9"/>
<rect x="388.87" y="271.52" width="4.9" height="4.9"/>
<rect x="392.04" y="270.98" width="4.9" height="4.9"/>
<rect x="395.22" y="270.44" width="4.9" height="4.9"/>
<rect x="398.40" y="269.86" width="4.9" height="4.9"/>
<rect x="401.58" y="269.21" width="4.9" height="4.9"/>
<rect x="404.76" y="268.45" width="4.9" height="4.9"/>
<rect x="407.93" y="267.59" width="4.9" height="4.9"/>
<rect x="411.11" y="266.64" width="4.9" height="4.9"/>
<rect x="414.29" y="265.60" width="4.9" height="4.9"/>
<rect x="417.47" y="264.45" width="4.9" height="4.9"/>
<rect x="420.65" y="263.10" width="4.9" height="4.9"/>
<rect x="423.82" y="261.68" width="4.9" height="4.9"/>
<rect x="427.00" y="260.20" width="4.9" height="4.9"/>
<rect x="430.18" y="258.83" width="4.9" height="4.9"/>
<rect x="433.36" y="257.33" width="4.9" height="4.9"/>
<rect x="436.54" y="255.28" width="4.9" height="4.9"/>
<rect x="439.71" y="252.81" width="4.9" height="4.9"/>
<rect x="442.89" y="250.50" width="4.9" height="4.9"/>
<rect x="446.07" y="248.04" width="4.9" height="4.9"/>
<rect x="449.25" y="244.75" width="4.9" height="4.9"/>
<rect x="452.43" y="241.81" width="4.9" height="4.9"/>
<rect x="455.60" y="239.75" width="4.9" height="4.9"/>
<rect x="458.78" y="240.62" width="4.9" height="4.9"/>
<rect x="461.96" y="247.04" width="4.9" height="4.9"/>
<rect x="465.14" y="259.37" width="4.9" height="4.9"/>
<rect x="468.32" y="278.71" width="4.9" height="4.9"/>
<rect x="471.49" y="304.35" width="4.9" height="4.9"/>
<rect x="474.67" y="336.80" width="4.9" height="4.9"/>
</g>
<g fill="#0000ff">
<path d="M321.50 268.45L324.40 272.20L321.50 275.95L318.60 272.20Z"/>
<path d="M324.61 268.27L327.51 272.02L324.61 275.77L321.71 272.02Z"/>
<path d="M327.72 268.07L330.62 271.82L327.72 275.57L324.82 271.82Z"/>
<path d="M330.82 267.87L333.72 271.62L330.82 275.37L327.92 271.62Z"/>
<path d="M333.93 267.67L336.83 271.42L333.93 275.17L331.03 271.42Z"/>
<path d="M337.04 267.46L339.94 271.21L337.04 274.96L334.14 271.21Z"/>
<path d="M340.15 267.24L343.05 270.99L340.15 274.74L337.25 270.99Z"/>
<path d="M343.26 267.02L346.16 270.77L343.26 274.52L340.36 270.77Z"/>
<path d="M346.36 266.79L349.26 270.54L346.36 274.29L343.46 270.54Z"/>
<path d="M349.47 266.55L352.37 270.30L349.47 274.05L346.57 270.30Z"/>
<path d="M352.58 266.30L355.48 270.05L352.58 273.80L349.68 270.05Z"/>
<path d="M355.69 266.04L358.59 269.79L355.69 273.54L352.79 269.79Z"/>
<path d="M358.80 265.77L361.70 269.52L358.80 273.27L355.90 269.52Z"/>
<path d="M361.90 265.47L364.80 269.22L361.90 272.97L359.00 269.22Z"/>
<path d="M365.01 265.14L367.91 268.89L365.01 272.64L362.11 268.89Z"/>
<path d="M368.12 264.80L371.02 268.55L368.12 272.30L365.22 268.55Z"/>
<path d="M371.23 264.46L374.13 268.21L371.23 271.96L368.33 268.21Z"/>
<path d="M374.34 264.12L377.24 267.87L374.34 271.62L371.44 267.87Z"/>
<path d="M377.44 263.79L380.34 267.54L377.44 271.29L374.54 267.54Z"/>
<path d="M380.55 263.44L383.45 267.19L380.55 270.94L377.65 267.19Z"/>
<path d="M383.66 263.10L386.56 266.85L383.66 270.60L380.76 266.85Z"/>
<path d="M386.77 262.77L389.67 266.52L386.77 270.27L383.87 266.52Z"/>
<path d="M389.88 262.46L392.78 266.21L389.88 269.96L386.98 266.21Z"/>
<path d="M392.98 262.17L395.88 265.92L392.98 269.67L390.08 265.92Z"/>
<path d="M396.09 261.89L398.99 265.64L396.09 269.39L393.19 265.64Z"/>
<path d="M399.20 261.62L402.10 265.37L399.20 269.12L396.30 265.37Z"/>
<path d="M402.31 261.38L405.21 265.13L402.31 268.88L399.41 265.13Z"/>
<path d="M405.42 261.18L408.32 264.93L405.42 268.68L402.52 264.93Z"/>
<path d="M408.52 260.97L411.42 264.72L408.52 268.47L405.62 264.72Z"/>
<path d="M411.63 260.78L414.53 264.53L411.63 268.28L408.73 264.53Z"/>
<path d="M414.74 260.63L417.64 264.38L414.74 268.13L411.84 264.38Z"/>
<path d="M417.85 260.55L420.75 264.30L417.85 268.05L414.95 264.30Z"/>
<path d="M420.96 260.56L423.86 264.31L420.96 268.06L418.06 264.31Z"/>
<path d="M424.06 260.59L426.96 264.34L424.06 268.09L421.16 264.34Z"/>
<path d="M427.17 260.65L430.07 264.40L427.17 268.15L424.27 264.40Z"/>
<path d="M430.28 261.02L433.18 264.77L430.28 268.52L427.38 264.77Z"/>
<path d="M433.39 261.66L436.29 265.41L433.39 269.16L430.49 265.41Z"/>
<path d="M436.50 262.52L439.40 266.27L436.50 270.02L433.60 266.27Z"/>
<path d="M439.60 263.68L442.50 267.43L439.60 271.18L436.70 267.43Z"/>
<path d="M442.71 265.24L445.61 268.99L442.71 272.74L439.81 268.99Z"/>
<path d="M445.82 267.35L448.72 271.10L445.82 274.85L442.92 271.10Z"/>
<path d="M448.93 269.95L451.83 273.70L448.93 277.45L446.03 273.70Z"/>
<path d="M452.04 273.70L454.94 277.45L452.04 281.20L449.14 277.45Z"/>
<path d="M455.14 280.76L458.04 284.51L455.14 288.26L452.24 284.51Z"/>
<path d="M458.25 289.00L461.15 292.75L458.25 296.50L455.35 292.75Z"/>
<path d="M461.36 299.59L464.26 303.34L461.36 307.09L458.46 303.34Z"/>
<path d="M464.47 314.38L467.37 318.13L464.47 321.88L461.57 318.13Z"/>
<path d="M467.58 332.08L470.48 335.83L467.58 339.58L464.68 335.83Z"/>
<path d="M470.68 359.57L473.58 363.32L470.68 367.07L467.78 363.32Z"/>
<path d="M473.79 369.75L476.69 373.50L473.79 377.25L470.89 373.50Z"/>
</g>
<text x="155.5" y="202.8">Q</text><text x="165.0" y="196.9" font-size="9.3">int</text><text x="165.0" y="209.8" font-size="9.3">0.1</text>
<text x="403.3" y="202.8">Q</text><text x="412.8" y="196.9" font-size="9.3">int</text><text x="412.8" y="209.8" font-size="9.3">10</text>
<text x="155.5" y="401.8">Q</text><text x="165.0" y="395.9" font-size="9.3">ext</text><text x="165.0" y="408.8" font-size="9.3">0.1</text>
<text x="403.3" y="401.8">Q</text><text x="412.8" y="395.9" font-size="9.3">ext</text><text x="412.8" y="408.8" font-size="9.3">10</text>
<g transform="translate(33.8,132.5) rotate(-90) scale(1.09,1)"><text x="0" y="0">log p(Q</text><text x="38.6" y="-6.7" font-size="9.3">int</text><text x="38.0" y="6.6" font-size="9.3">t</text><text x="48.3" y="0">)</text></g>
<g transform="translate(33.8,333.2) rotate(-90) scale(1.09,1)"><text x="0" y="0">log p(Q</text><text x="38.2" y="-6.7" font-size="9.3">ext</text><text x="38.0" y="6.6" font-size="9.3">t</text><text x="50.7" y="0">)</text></g>
<rect x="221.5" y="192.5" width="85" height="56" fill="#fff" stroke="#1a1a1a" stroke-width="1" shape-rendering="crispEdges"/>
<g fill="#ff0000">
<circle cx="247.80" cy="203.50" r="2.85"/>
</g>
<g fill="#00ff00">
<rect x="245.35" y="218.05" width="4.9" height="4.9"/>
</g>
<g fill="#0000ff">
<path d="M247.80 233.55L250.70 237.30L247.80 241.05L244.90 237.30Z"/>
</g>
<text x="269.8" y="208.2">γ=0</text>
<text x="269.8" y="225.0">γ=0.1</text>
<text x="269.8" y="241.8">γ=0.5</text>
</svg>
</div>
</body></html>
